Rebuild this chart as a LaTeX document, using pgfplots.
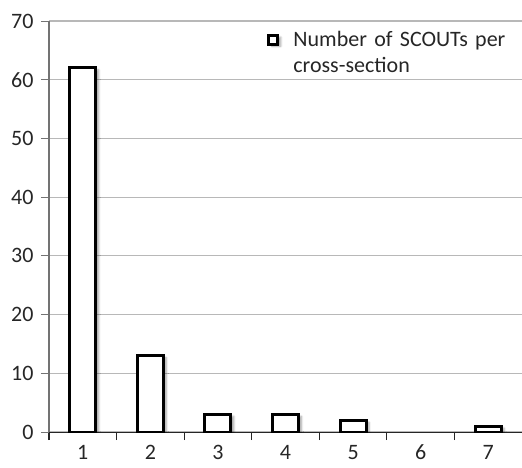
\documentclass[border=0pt]{standalone}
\usepackage{pgfplots}
\pgfplotsset{compat=1.18}
\usepackage{fontspec}
\setmainfont{Carlito}
\usetikzlibrary{shadows.blur}

% category 6 has no bar (count 0)
\pgfplotstableread{
cat count
1 62
2 13
3 3
4 3
5 2
7 1
}\scouts

\begin{document}
\begin{tikzpicture}
\begin{axis}[
  scale only axis, width=473pt, height=411pt,
  xmin=0.5, xmax=7.5, ymin=0, ymax=70,
  axis x line*=bottom, axis y line*=left,
  x axis line style={black!85, line width=1pt},
  y axis line style={black!55, line width=1pt},
  ytick={0,10,...,70},
  xtick={1,...,7},
  minor xtick={0.5,1.5,...,7.5},
  tick align=outside,
  major tick length=8pt, minor tick length=8pt,
  major x tick style={draw=none},
  minor x tick style={black!85, line width=1pt},
  major y tick style={black!55, line width=1pt},
  ymajorgrids,
  major grid style={black!28, line width=1.2pt},
  /pgf/number format/assume math mode=true,
  ticklabel style={font=\fontsize{22}{26}\selectfont, text=black!85},
  xticklabel style={anchor=base, inner sep=0pt, yshift=-19pt},
  yticklabel style={xshift=-4pt},
  legend style={at={(rel axis cs:0.455,0.985)}, anchor=north west, draw=none, fill=none,
    font=\fontsize{22}{26}\selectfont, text=black!85,
    nodes={text width=240pt, align=left},
    /tikz/every odd column/.append style={column sep=12pt}},
  legend cell align=left,
  legend image code/.code={\draw[line width=3pt, draw=black, fill=white] (0pt,-4.5pt) rectangle (9pt,4.5pt);},
]
\addplot[ybar, bar width=26pt, fill=white, draw=black, line width=3pt,
  blur shadow={shadow xshift=3pt, shadow yshift=-2pt, shadow blur steps=6, shadow opacity=35}]
  table[x=cat, y=count] {\scouts};
\addlegendentry{Number of SCOUTs per\\cross-section}
\end{axis}
% page ends just below the tick numbers
\pgfresetboundingbox
\path (current axis.south west) ++(-49pt,-35pt) rectangle ([yshift=21pt]current axis.north east);
\end{tikzpicture}
\end{document}
